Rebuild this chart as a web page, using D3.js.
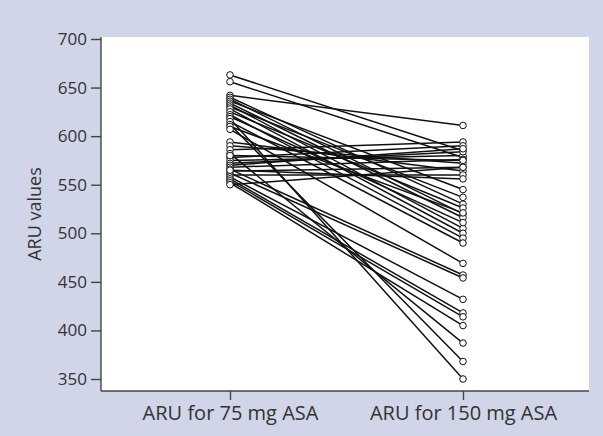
<!DOCTYPE html>
<html>
<head>
<meta charset="utf-8">
<script src="https://cdn.jsdelivr.net/npm/d3@7"></script>
<style>
  body { margin: 0; background: #d0d5e8; }
  text { font-family: "Open Sans", sans-serif; fill: #333; }
</style>
</head>
<body>
<script>
// categories on the x axis
var groups = ["ARU for 75 mg ASA", "ARU for 150 mg ASA"];

// ARU per patient with 75 mg, then with 150 mg (same order)
var aru75 = [663, 656, 642, 640, 638, 636, 634, 632, 630, 628, 625, 622, 620, 618, 615,
             612, 610, 607, 594, 590, 586, 582, 578, 575, 572, 570, 568, 566, 564, 562,
             560, 558, 556, 554, 552, 550, 565, 580];
var aru150 = [585, 578, 611, 530, 520, 545, 516, 505, 537, 500, 526, 495, 511, 350, 490,
              368, 521, 469, 564, 572, 594, 387, 590, 580, 584, 587, 576, 457, 568, 454,
              560, 432, 418, 414, 405, 568, 556, 575];

var yTicks = [350, 400, 450, 500, 550, 600, 650, 700];

var width = 603, height = 436;
var plot = {left: 101, right: 589, top: 37, bottom: 391};

var svg = d3.select("body").append("svg")
    .attr("width", width)
    .attr("height", height);

// white plot area
svg.append("rect")
    .attr("x", plot.left)
    .attr("y", plot.top)
    .attr("width", plot.right - plot.left)
    .attr("height", plot.bottom - plot.top)
    .attr("fill", "#fff");

var x = d3.scalePoint().domain(groups).range([230, 463]);
var y = d3.scaleLinear().domain([350, 700]).range([379, 39]);

// y axis
var yAxis = svg.append("g")
    .attr("transform", "translate(" + plot.left + ",0)")
    .call(d3.axisLeft(y).tickValues(yTicks).tickSize(10).tickSizeOuter(0).tickPadding(4));
yAxis.select(".domain").attr("d", "M0," + plot.top + "V" + plot.bottom);

// x axis
var xAxis = svg.append("g")
    .attr("transform", "translate(0," + plot.bottom + ")")
    .call(d3.axisBottom(x).tickSize(9).tickSizeOuter(0).tickPadding(6));
xAxis.select(".domain").attr("d", "M" + plot.left + ",0H" + plot.right);

svg.selectAll(".domain, .tick line").attr("stroke", "#444").attr("stroke-width", 1.4);
yAxis.selectAll(".tick text").style("font-size", "17px").attr("fill", "#333");
xAxis.selectAll(".tick text").style("font-size", "20px").attr("fill", "#333");

// y title
svg.append("text")
    .attr("transform", "translate(41," + 214 + ") rotate(-90)")
    .attr("text-anchor", "middle")
    .style("font-size", "18px")
    .text("ARU values");

// paired lines
var lines = svg.append("g");
aru75.forEach(function(v, i) {
    lines.append("line")
        .attr("x1", x(groups[0]))
        .attr("y1", y(v))
        .attr("x2", x(groups[1]))
        .attr("y2", y(aru150[i]))
        .attr("stroke", "#111")
        .attr("stroke-width", 1.5);
});

// points
svg.selectAll(".p75")
    .data(aru75)
    .enter()
    .append("circle")
        .attr("cx", x(groups[0]))
        .attr("cy", function(d) { return y(d) })
        .attr("r", 3.3)
        .attr("fill", "#fff")
        .attr("stroke", "#111")
        .attr("stroke-width", 1);

svg.selectAll(".p150")
    .data(aru150)
    .enter()
    .append("circle")
        .attr("cx", x(groups[1]))
        .attr("cy", function(d) { return y(d) })
        .attr("r", 3.3)
        .attr("fill", "#fff")
        .attr("stroke", "#111")
        .attr("stroke-width", 1);
</script>
</body>
</html>
